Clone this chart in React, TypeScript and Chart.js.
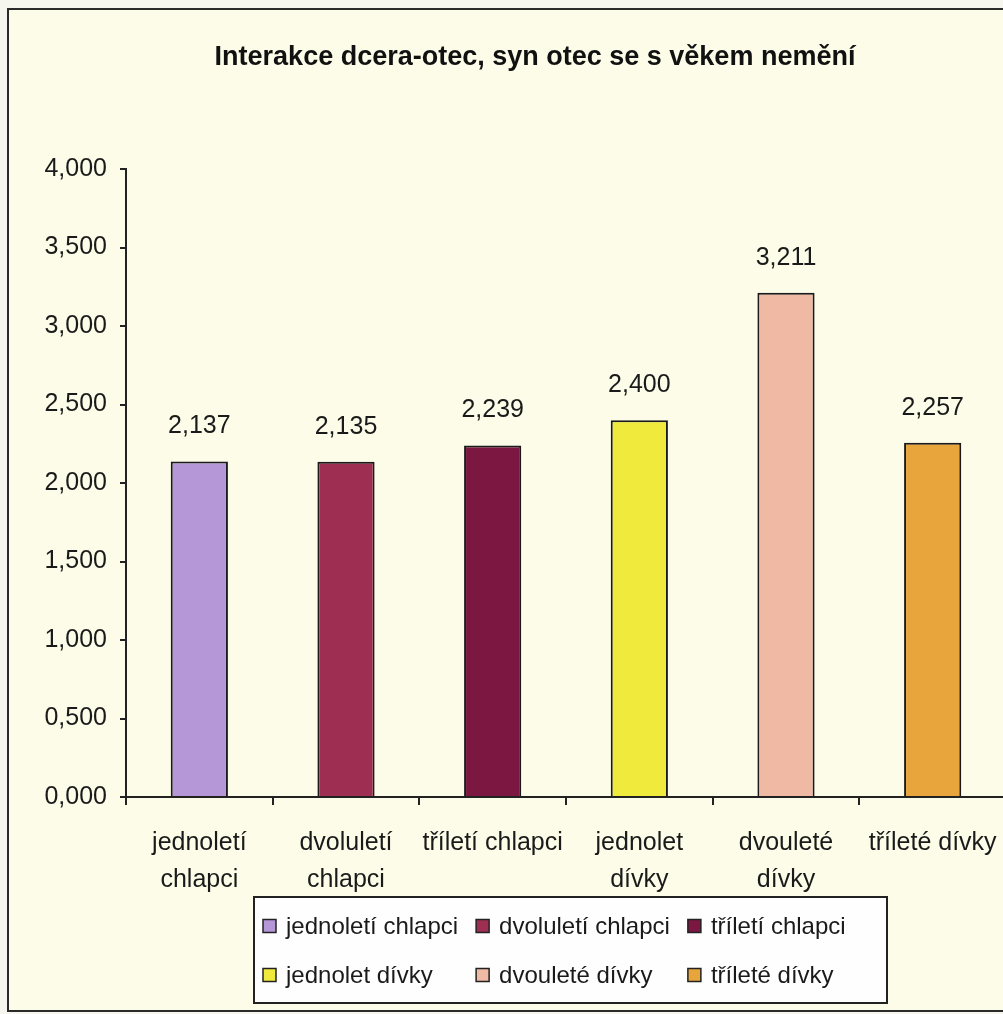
import React, { useEffect, useRef } from "react";
import { Chart, registerables } from "chart.js";

Chart.register(...registerables);

const titleText = "Interakce dcera-otec, syn otec se s věkem nemění";
const categoryLabels: (string | string[])[] = [
  ["jednoletí", "chlapci"],
  ["dvoluletí", "chlapci"],
  "tříletí chlapci",
  ["jednolet", "dívky"],
  ["dvouleté", "dívky"],
  "tříleté dívky",
];
const seriesNames = [
  "jednoletí chlapci",
  "dvoluletí chlapci",
  "tříletí chlapci",
  "jednolet dívky",
  "dvouleté dívky",
  "tříleté dívky",
];
const values = [2.137, 2.135, 2.239, 2.4, 3.211, 2.257];
const barColors = ["#b597d8", "#9e2f52", "#7c1742", "#f0ea3c", "#efb9a3", "#e8a53c"];
const yMin = 0;
const yMax = 4;
const yStep = 0.5;

const FONT = "'Liberation Sans', Arial, sans-serif";
const INK = "#1a1a1a";
const fmt = (v: number) => v.toFixed(3).replace(".", ",");

const titlePlugin = {
  id: "centeredTitle",
  afterDraw(chart: any) {
    const ctx = chart.ctx;
    ctx.save();
    ctx.font = `bold 27px ${FONT}`;
    ctx.fillStyle = "#111";
    ctx.textAlign = "center";
    ctx.textBaseline = "middle";
    ctx.fillText(titleText, chart.width / 2, 48);
    ctx.restore();
  },
};

const dataLabelPlugin = {
  id: "dataLabels",
  afterDatasetsDraw(chart: any) {
    const ctx = chart.ctx;
    const meta = chart.getDatasetMeta(0);
    ctx.save();
    ctx.font = `25px ${FONT}`;
    ctx.fillStyle = INK;
    ctx.textAlign = "center";
    ctx.textBaseline = "middle";
    meta.data.forEach((bar: any, i: number) => {
      ctx.fillText(fmt(values[i]), bar.x, bar.y - 35);
    });
    ctx.restore();
  },
};

const boxLegendPlugin = {
  id: "boxLegend",
  afterDraw(chart: any) {
    const ctx = chart.ctx;
    const left = 245;
    const top = 887;
    const width = 633;
    const height = 106;
    ctx.save();
    ctx.fillStyle = "#fefefe";
    ctx.fillRect(left, top, width, height);
    ctx.strokeStyle = "#222";
    ctx.lineWidth = 2;
    ctx.strokeRect(left, top, width, height);
    ctx.font = `24px ${FONT}`;
    const cols = 3;
    const colW: number[] = [];
    for (let c = 0; c < cols; c++) {
      let m = 0;
      for (let i = c; i < seriesNames.length; i += cols) {
        m = Math.max(m, ctx.measureText(seriesNames[i]).width);
      }
      colW.push(13 + 10 + m + 18);
    }
    const colX: number[] = [];
    let x = left + 9;
    for (let c = 0; c < cols; c++) {
      colX.push(x);
      x += colW[c];
    }
    ctx.textAlign = "left";
    ctx.textBaseline = "middle";
    seriesNames.forEach((name, i) => {
      const c = i % cols;
      const r = Math.floor(i / cols);
      const bx = colX[c];
      const cy = top + 29 + r * 49;
      ctx.fillStyle = barColors[i];
      ctx.fillRect(bx, cy - 6.5, 13, 13);
      ctx.strokeStyle = "#222";
      ctx.lineWidth = 1.5;
      ctx.strokeRect(bx, cy - 6.5, 13, 13);
      ctx.fillStyle = INK;
      ctx.fillText(name, bx + 23, cy + 1);
    });
    ctx.restore();
  },
};

export default function App() {
  const canvasRef = useRef<HTMLCanvasElement | null>(null);

  useEffect(() => {
    if (!canvasRef.current) return;
    const chart = new Chart(canvasRef.current, {
      type: "bar",
      data: {
        labels: categoryLabels,
        datasets: [
          {
            label: "hodnoty",
            data: values,
            backgroundColor: barColors,
            borderColor: "#1a1a1a",
            borderWidth: 2,
            barPercentage: 0.39,
            categoryPercentage: 1,
          },
        ],
      },
      options: {
        animation: false,
        responsive: false,
        devicePixelRatio: 1,
        layout: { padding: { left: 0, right: 55, top: 159, bottom: 0 } },
        plugins: {
          legend: { display: false },
          tooltip: { enabled: false },
          title: { display: false },
        },
        scales: {
          x: {
            grid: {
              offset: true,
              drawOnChartArea: false,
              drawTicks: true,
              tickLength: 8,
              color: "#222",
              lineWidth: 2,
            },
            border: { display: true, color: "#222", width: 2 },
            ticks: {
              color: INK,
              font: { family: FONT, size: 25, lineHeight: 1.5 },
              padding: 19,
              autoSkip: false,
              maxRotation: 0,
              minRotation: 0,
            },
            afterFit: (scale: any) => {
              scale.height = 213;
            },
          },
          y: {
            min: yMin,
            max: yMax,
            grid: {
              drawOnChartArea: false,
              drawTicks: true,
              tickLength: 6,
              color: "#222",
              lineWidth: 2,
            },
            border: { display: true, color: "#222", width: 2 },
            ticks: {
              stepSize: yStep,
              color: INK,
              font: { family: FONT, size: 25 },
              padding: 13,
              callback: (v: any) => fmt(Number(v)),
            },
            afterFit: (scale: any) => {
              scale.width = 117;
            },
          },
        },
      },
      plugins: [dataLabelPlugin, boxLegendPlugin, titlePlugin],
    } as any);
    return () => chart.destroy();
  }, []);

  return (
    <div
      style={{
        position: "fixed",
        left: 0,
        top: 0,
        width: 1003,
        height: 1014,
        overflow: "hidden",
        background: "#f6f6ee",
      }}
    >
      <div
        style={{
          position: "absolute",
          left: 7,
          top: 8,
          width: 1052,
          height: 1000,
          border: "2px solid #2a2a2a",
          background: "#fcfce8",
        }}
      >
        <canvas
          ref={canvasRef}
          width={1052}
          height={1000}
          style={{ display: "block", width: 1052, height: 1000 }}
        />
      </div>
    </div>
  );
}
